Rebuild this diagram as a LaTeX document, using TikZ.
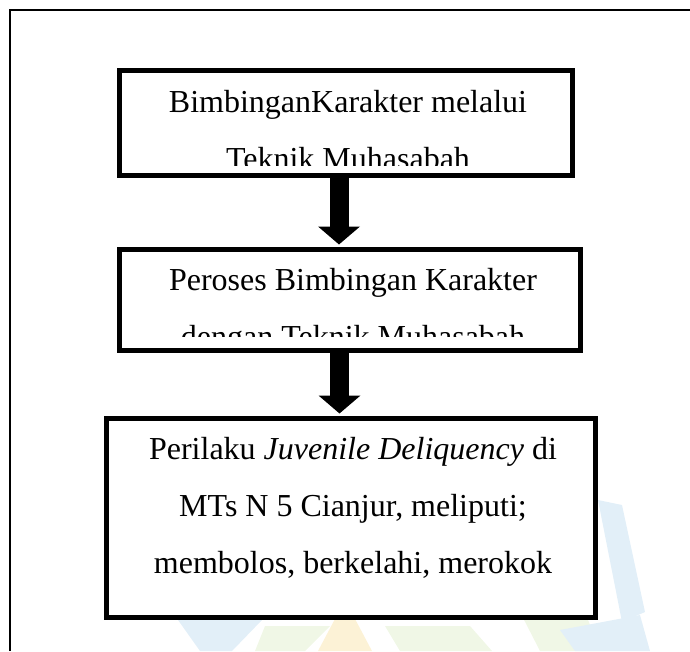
\documentclass[tikz,border=0pt]{standalone}
\usepackage{fontspec}
\setmainfont{Liberation Serif}
\usetikzlibrary{arrows.meta, positioning}
\definecolor{markblue}{RGB}{226,239,248}
\definecolor{markgreen}{RGB}{240,247,230}
\definecolor{markyellow}{RGB}{252,242,214}

\begin{document}
\begin{tikzpicture}[
  x=1pt, y=-1pt,
  box/.style={draw=black, line width=5pt, fill=white, inner sep=0pt},
  txt/.style={align=center, inner sep=0pt, font=\fontsize{32}{57}\selectfont},
  flow/.style={draw=black, line width=19pt, -{Triangle[length=18pt, width=41pt]}}
]
  \useasboundingbox (0,0) rectangle (690,651);
  % faint watermark behind the chart
  \fill[markblue] (178,620) -- (262,620) -- (232,651) -- (200,651) -- cycle;
  \fill[markgreen] (265,626) -- (330,626) -- (305,651) -- (255,651) -- cycle;
  \fill[markyellow] (318,651) -- (345,600) -- (372,651) -- cycle;
  \fill[markgreen] (385,626) -- (470,626) -- (492,651) -- (400,651) -- cycle;
  \fill[markgreen] (520,612) -- (585,612) -- (600,651) -- (540,651) -- cycle;
  \fill[markblue] (598,500) -- (622,505) -- (645,612) -- (622,622) -- cycle;
  \fill[markblue] (560,630) -- (640,615) -- (650,651) -- (575,651) -- cycle;
  \draw[line width=2pt] (9.5,651) -- (9.5,9.5) -- (690,9.5);

  \node[box, minimum width=453pt, minimum height=105pt] (b1) at (346,123) {};
  \node[box, minimum width=461pt, minimum height=101pt] (b2) at (350,300) {};
  \node[box, minimum width=489pt, minimum height=199pt] (b3) at (351,518) {};

  \draw[flow, shorten >=2.5pt] ([xshift=-7pt]b1.south) -- ([xshift=-11pt]b2.north);
  \draw[flow, shorten >=2.5pt] ([xshift=-10.5pt]b2.south) -- ([xshift=-11.5pt]b3.north);

  \begin{scope}
    \clip (117,60) rectangle (575,165);
    \node[txt] (t1) at (348,130) {BimbinganKarakter melalui\\Teknik Muhasabah};
  \end{scope}
  \begin{scope}
    \clip (117,240) rectangle (583,336);
    \node[txt] (t2) at (353,311) {Peroses Bimbingan Karakter\\dengan Teknik Muhasabah};
  \end{scope}
  \node[txt] (t3) at (353,508) {Perilaku \textit{Juvenile Deliquency} di\\MTs N 5 Cianjur, meliputi;\\membolos, berkelahi, merokok};
\end{tikzpicture}
\end{document}
